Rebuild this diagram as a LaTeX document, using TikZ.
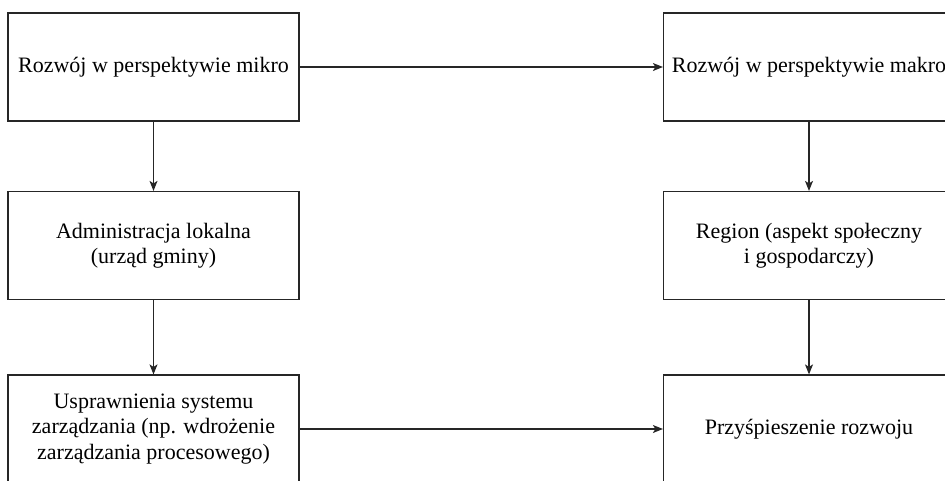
\documentclass[tikz,border=0pt]{standalone}
\usepackage{fontspec}
\setmainfont{Liberation Serif}
\usetikzlibrary{arrows.meta}
\begin{document}
\begin{tikzpicture}[x=1pt,y=-1pt,
  box/.style={draw=black!85, line width=1.2pt, minimum width=291pt, minimum height=108pt,
    align=center, inner sep=0pt, font=\fontsize{22}{25.5}\selectfont},
  link/.style={draw=black!85, line width=1.2pt, -{Stealth[length=10pt,width=8pt,inset=2.5pt]}}]
\clip (0,0) rectangle (945,480);
\fill[white] (0,0) rectangle (945,480);
% left column: micro perspective
\node[box] (mikro) at (153.5,67) {Rozwój w perspektywie mikro};
\node[box] (admin) at (153.5,245.5) {Administracja lokalna\\(urząd gminy)};
\node[box] (usp) at (153.5,429) {Usprawnienia systemu\\zarządzania (np. wdrożenie\\zarządzania procesowego)};
% right column: macro perspective
\node[box] (makro) at (809,67) {Rozwój w perspektywie makro};
\node[box] (region) at (809,245.5) {Region (aspekt społeczny\\i gospodarczy)};
\node[box] (przysp) at (809,429) {Przyśpieszenie rozwoju};
% connectors
\draw[link] (mikro) -- (makro);
\draw[link] (mikro) -- (admin);
\draw[link] (admin) -- (usp);
\draw[link] (makro) -- (region);
\draw[link] (region) -- (przysp);
\draw[link] (usp) -- (przysp);
\end{tikzpicture}
\end{document}
